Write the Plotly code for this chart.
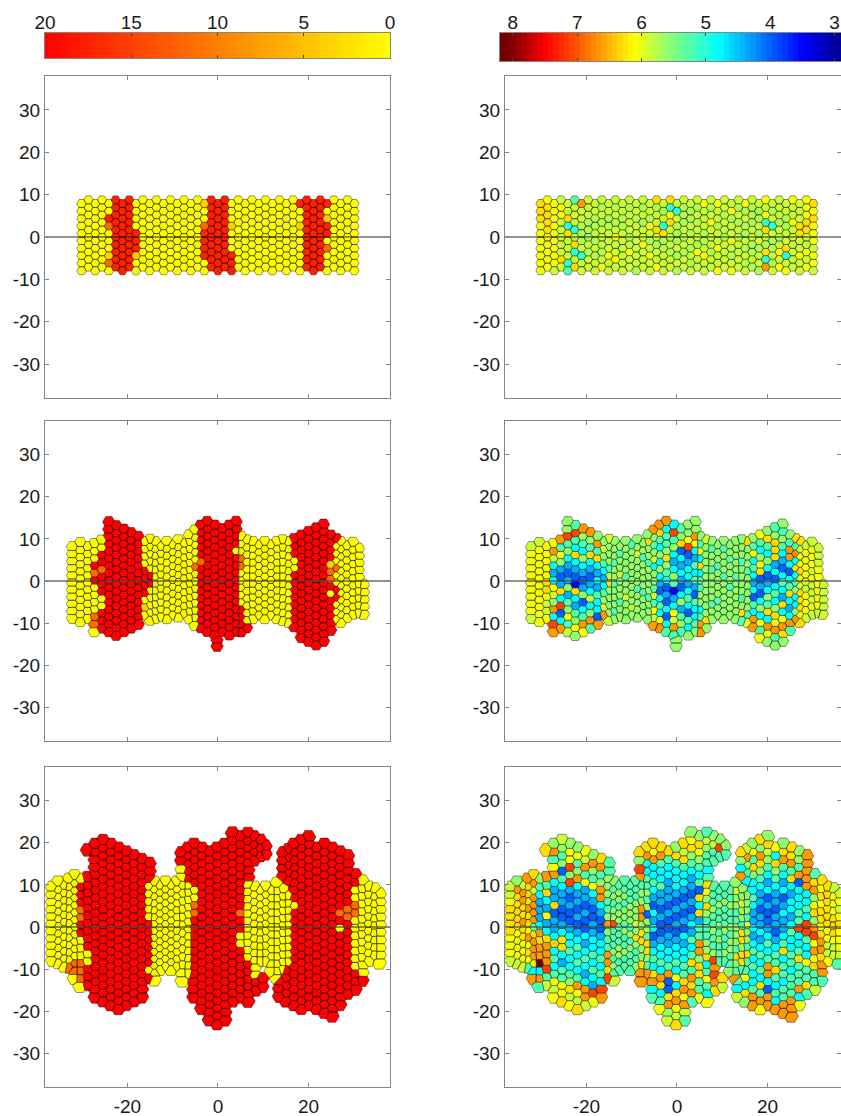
import re
import numpy as np
import plotly.graph_objects as go
from plotly.colors import sample_colorscale

W, H = 841, 1116

# ---------- data: colour scales and cell value codes ----------
GROWTH_TICKS = [20, 15, 10, 5, 0]
AFFECT_TICKS = [8, 7, 6, 5, 4, 3]
X_TICKS = [-20, 0, 20]
Y_TICKS = [-30, -20, -10, 0, 10, 20, 30]
GROWTH_CODE = {"y": 0, "a": 3.7, "d": 11.7, "q": 17.5, "r": 20}
AFFECT_CODE = {"D": 8.1, "R": 7.1, "O": 6.65, "Y": 6.3, "y": 6.08, "l": 5.87, "k": 5.74, "g": 5.6,
               "m": 5.25, "t": 5.05, "c": 4.8, "s": 4.4, "b": 4.0, "n": 3.5}
AFFECT_STOPS = [(2.9, "#000090"), (3.5, "#0000ff"), (4.0, "#0060ff"), (4.8, "#00ffff"),
                (5.5, "#80ff80"), (6.13, "#ffff00"), (7.0, "#ff5500"), (7.5, "#ff0000"),
                (8.0, "#800000"), (8.2, "#6a0000")]
GROWTH_STOPS = [(0, "#ffff00"), (10, "#ff8000"), (20, "#ff0000")]

# ---------- top row: 41 columns of 10 cells ----------
P1_X = [-30.1, -28.6, -27.1, -25.6, -24.1, -22.6, -21.1, -19.6, -18.1, -16.6, -15.1, -13.6, -12.0, -10.5,
        -9.0, -7.5, -6.0, -4.5, -3.0, -1.5, 0.0, 1.5, 3.0, 4.5, 6.0, 7.5, 9.0, 10.5, 12.0, 13.6, 15.1,
        16.6, 18.1, 19.6, 21.1, 22.6, 24.1, 25.6, 27.1, 28.6, 30.1]
P1_TOP = [7.85, 8.7] * 20 + [7.85]
P1_STEP = [1.75] * 41
P1_GROWTH = ["y10", "y10", "y10", "y10", "y2 q d y3 a d y", "q10", "q10", "q10", "y4 q3 a y2", "y10", "y10",
             "y10", "y10", "y10", "y10", "y10", "y10", "y10", "a y2 d q4 y2", "q10", "q10", "q10",
             "y3 a y3 q3", "y10", "y10", "y10", "y10", "y10", "y10", "y10", "y10", "y10", "q y2 a y6", "q10",
             "q10", "q10", "q y a q2 y d y3", "y10", "y10", "y10", "y10"]
P1_AFFECT = ["YYYyyyyyyy", "yYYYYyyyyy", "yyyyyyyyyl", "lyylllllYl", "llYtYllltm", "mllltlYtlY", "Ollkkkltll",
             "lllkkklkll", "llkklklkll", "lklklllkly", "llkklllyll", "lklklyllyl", "llkkllllll", "lklllklyll",
             "llkllllllk", "lklkllylll", "llkylklyll", "YkllYlklly", "lkltYkklll",
             "YtyYlklkll", "ltlkkklklk", "lkkklklkll", "lkklklklkl", "lklkllkyll", "ylllkklyll", "lklylllkll",
             "yllkllylly", "llkllkllll", "lykllylkly", "lklklkllll", "yklkklklkl", "lkkkllkklk", "lkklklkllk",
             "ylytYlkYtO", "lkltlkklkl", "lllklklyly", "llkkllYtly", "yllyllllll",
             "lllYYllyll", "yyyYYllyly", "YyYyyylyyl"]

# ---------- middle row ----------
P2_X = [-32.1, -30.4, -28.8, -27.3, -25.7, -24.1, -22.5, -20.8, -19.2, -17.6, -16.1, -15.0, -13.9, -12.7, -11.3,
        -10.0, -8.8, -7.5, -6.3, -5.1, -3.8, -2.4, -0.7, -0.2, 0.9, 2.5, 4.0, 5.1, 6.3, 7.7, 9.0, 10.3, 11.7, 13.0,
        14.3, 15.6, 16.8, 18.4, 20.0, 21.7, 23.3, 24.9, 26.2, 27.1, 28.4, 29.8, 31.0, 32.1]
P2_TOP = [8.1, 9.05, 8.1, 8.8, 9.64, 14.0, 13.1, 12.27, 11.4, 10.54, 9.3, 9.8, 9.3, 8.1, 9.3,
          8.5, 9.7, 8.9, 10.9, 12.0, 13.2, 14.07, 13.2, -14.0, 12.34, 13.2, 14.07, 10.5, 9.7, 9.3, 8.5, 9.3, 8.5, 9.3,
          9.7, 9.3, 9.97, 10.84, 11.7, 12.57, 13.43, 10.84, 9.97, 9.3, 8.3, 9.1, 7.7, -0.9]
P2_STEP = [1.69, 1.69, 1.69, 1.73, 1.73, 1.73, 1.73, 1.73, 1.73, 1.73, 1.73, 1.73, 1.65, 1.65, 1.65,
           1.65, 1.65, 1.65, 1.65, 1.73, 1.73, 1.73, 1.73, 1.45, 1.73, 1.73, 1.73, 1.73, 1.73, 1.65, 1.65, 1.65, 1.65, 1.65,
           1.73, 1.73, 1.73, 1.73, 1.73, 1.73, 1.73, 1.73, 1.73, 1.73, 1.69, 1.69, 1.69, 1.73]
P2_GROWTH = ["y11", "y12", "y11", "y3 r d r y4 d2 y", "y2 r2 d r3 y2 r3", "r16", "r16", "r15", "r14", "r13",
             "y4 r4 y a y", "y5 r2 y5", "y12", "y11", "y12", "y11", "y12", "y11", "y13", "y5 d y8",
             "r5 d r9", "r16", "r16", "r2", "r15", "r16", "r4 y r11", "y3 d2 y5 r4", "y12 r", "y12", "y11", "y12",
             "y11", "y12", "y12", "y12", "r3 y2 r8", "r15", "r16", "r17", "r17", "r4 a d2 r y r5", "r y3 d y2 r2 y3",
             "y12", "y11", "y11", "y10", "y5"]
P2_AFFECT = ["lyyyyyyyyyl", "lyyyyyyyyyyy", "yyyyyYYylly", "yOlcscylgOcRO", "OmygsbsYcRbcO", "ggRmgcsbsgsmgyml",
             "mRmcYcsbnYcsmgyg", "OgmcgcsbsgbcmOy", "OgmYcsbsclcgOm", "gOmYcscsmccbO", "glgmcscmglO", "lgggmlYggggl",
             "gggmggmgggmg", "gmgglgggmgg", "gggggmgglggg", "mgggggggglg", "gglggggmgggg", "ggmggggmggg",
             "gYggmggggmggg", "OgmglcggmlmylO", "OYmcgcgcsbcmcyO", "OcmmgYgmcbsbcbcm", "cRmgcscgmnscylOm", "gg",
             "mgYbcscsbcgsmgm", "ggyRbsccscmcbmcg", "ggOycsmcmsbmccmg", "gmycYcmmggcmOO",
             "lggggggggggYg", "gmggmggggmgg", "gggmggggmgg", "gmgggmgggggg", "ggmgggmgggg", "gggggmgggggg", "gggmggggmgYm",
             "Ygggmgggggmy", "gmycmcscbmcOO", "ymcgyYbsbcgcymy", "gYmcgcbscgmYcOyg", "mgYYYscbcmcgYyOmg",
             "gmgmcsbcmcsYcyOYg", "gmOOcbcmYcscOm", "YmOcYcmgccgO", "YlyyYylYYYyY", "lyyyyylyyyl", "lyyylylllyl",
             "lllyyyyyyl", "lllll"]

# ---------- bottom row ----------
P3_X = [-36.5, -35.3, -34.0, -32.9, -31.7, -30.5, -28.8, -28.8, -27.1, -25.4, -23.7, -22.0, -20.3, -18.6, -16.9, -15.2,
        -14.1, -12.9, -11.6, -10.4, -9.1, -8.0, -7.9, -6.6, -6.6, -5.3, -3.6, -1.9, -0.2, 1.5, 3.2, 4.9, 6.6, 7.9, 9.3,
        10.4, 8.0, 8.3, 9.3, 9.7, 10.5, 11.8, 13.0, 14.3, 15.5, 14.5, 13.6, 15.6, 15.0, 16.8, 18.4, 20.0, 21.8, 23.5,
        25.2, 26.9, 28.6, 30.3, 31.8, 33.2, 34.5, 35.6]
P3_TOP = [9.4, 10.6, 9.8, 11.3, 12.1, 11.3, 18.3, 11.7, 19.6, 20.5, 19.6, 18.7, 17.8, 16.9, 16.0, 15.1,
          10.6, 9.8, 10.6, 9.8, 10.6, 17.6, 13.7, 18.7, 9.9, 19.6, 18.7, 17.8, 18.7, 19.6, 22.3, 21.4, 22.2, 21.4, 20.6,
          19.2, 9.4, -13.1, 8.6, -12.3, 9.4, 8.6, 10.3, 9.0, 7.4, 17.6, -12.8, 18.3, -10.3, 19.6, 20.5, 21.4, 18.7, 19.6,
          18.7, 17.8, 16.9, 12.4, 10.9, 9.4, 9.0, 7.8]
P3_STEP = [1.73, 1.73, 1.73, 1.73, 1.73, 1.81, 1.81, 1.81, 1.81, 1.81, 1.81, 1.81, 1.81, 1.81, 1.81, 1.81,
           1.65, 1.65, 1.65, 1.65, 1.65, 1.81, 1.89, 1.81, 1.73, 1.81, 1.81, 1.81, 1.81, 1.81, 1.81, 1.81, 1.73, 1.81, 1.81,
           1.81, 1.73, 1.81, 1.65, 1.81, 1.73, 1.73, 1.73, 1.73, 1.73, 1.81, 1.81, 1.81, 1.81, 1.81, 1.81, 1.81, 1.81, 1.81,
           1.81, 1.81, 1.81, 1.81, 1.81, 1.73, 1.73, 1.81]
P3_GROWTH = ["y11", "y12", "y12", "y12 d", "y12 d2 y", "y r3 d2 r2 y3 d3 y", "r", "r10 y2 r3", "r21", "r22", "r22", "r22",
             "r21", "r20", "r19", "r3 y5 r6 y r", "y15", "y13", "y13", "y13", "y13", "r2", "y15", "r5", "y13",
             "r6 y2 d2 r11", "r22", "r23", "r24", "r24", "r23", "r10 d r2 y2 r7", "r7 y11 r6", "r4", "r3", "r2", "y13", "r2",
             "y11", "r2", "y11", "y12", "y14", "y12", "y10", "r4", "r3", "r5", "r5", "r8 y r13", "r23", "r23", "r22", "r23",
             "r23", "r8 d r y r10", "r7 d2 r10", "r2 y2 d2 y7 r3", "y13 r", "y11", "y10", "y10"]
P3_AFFECT = ["llyYYYYyyyl", "gOYYYYYyyyyl", "lOOYYOYYyyyl", "OYYYOYYyOyYym", "YOlOOOOmYOOOycO", "gmcssscOYOODcOm", "Y",
             "OmYcsyscYOOORml", "gOmyOcssYbsscYcmcmyly", "lgmgbmcssbbscYYcsmmyyY", "gyyRgRsbsbbsccmccmgYly",
             "gymgOcssbsbscmcmcmOylY", "ylOmyssbsbbcscmcscOOl", "gOgmycsbbssccmcmcsRy", "YOmgOOcsbbsccmcmcRO",
             "mmgggmmgOgmmOOYR", "gmgmggRmmmgmgml", "mggmggmmmggmm", "mmgmggmgmmgmm", "mmmgggmgmgmmm", "mmmggglgYgmmg", "Yg",
             "ROmggOOgYYggYOO", "YOccm", "mgmgbggmYYgmO", "YyOccmcsbcscbscmcYOcm", "YOmccmssbsbbsccmcOYcmy",
             "YmccsssbsbbssccmObbYOgl", "gYmcccsbsbsbsccmcycYOylY", "YlYmccsbsbsbcsccmmYOyOlm", "gyYgmcssbsbscsmcmYmOYOm",
             "gYygmcmbYcYsmmOOgYYmmy", "mlgmmcmYygYgmmmggYcmymcy", "glmm", "gRm", "gm", "mmmgmmgmmgROR", "OY", "mmgmmgmgmmm", "Yl",
             "mmgmmmgmmgm", "mmgmmgmggmmg", "glggmmgggmYgmO", "gglggmYYgYYm", "gggmlggmYm", "YgcO", "mcl", "lOgmc", "mycYg",
             "gymYgccmcsscscmcmccmOO", "YgOYgmcssbsscscmcmcYmOy", "gYlgmcscbsbbscmcmOOcbOO", "ycYgmcssbssbscmmYmcmcO",
             "gYOmcscbscsscmYcmmcmmOO", "YYOmYcsccscmccmmcmmmOOO", "ggmObcccmmRccmYmmmOcy", "OOOOOccmcRRmccymmYm",
             "mYOgyYgORyOyYmml", "YyYyYYyYOOYOOm", "YYYYYYyylly", "lyyyYYYyll", "lylyYyyylm"]

PANELS = [(P1_X, P1_TOP, P1_STEP, P1_GROWTH, P1_AFFECT),
          (P2_X, P2_TOP, P2_STEP, P2_GROWTH, P2_AFFECT),
          (P3_X, P3_TOP, P3_STEP, P3_GROWTH, P3_AFFECT)]

# ---------- layout in pixels ----------
PX_X, PX_Y = 4.525, 4.23
Y_RANGE = [-38, 38]
ROWS = [(76, 398), (421, 741), (767, 1087)]
COLS = [(45, 390, [-38.2, 38.0]), (505, 841, [-38.0, 36.25])]
CELL_R = [4.9, 6.3, 7.4]
ZERO = [("rgba(20,20,20,0.9)", 1), ("rgba(70,70,70,0.6)", 2), ("rgba(70,70,70,0.6)", 2)]


def scale(stops):
    lo, hi = stops[0][0], stops[-1][0]
    return [[(v - lo) / (hi - lo), c] for v, c in stops], lo, hi


def colour(stops, v):
    cs, lo, hi = scale(stops)
    return sample_colorscale(cs, [(v - lo) / (hi - lo)])[0]


def expand(code):
    out = ""
    for tok in code.split():
        m = re.fullmatch(r"([A-Za-z])(\d*)", tok)
        out += m.group(1) * int(m.group(2) or 1)
    return out


def cells(panel):
    xs, tops, steps, growth, affect = panel
    pts, g, a = [], [], []
    for x, t, s, gc, ac in zip(xs, tops, steps, growth, affect):
        gs = expand(gc)
        ac = (ac + ac[-1] * len(gs))[:len(gs)]
        for k, (c1, c2) in enumerate(zip(gs, ac)):
            pts.append((x, t - k * s))
            g.append(c1)
            a.append(c2)
    return np.array(pts), g, a


def clip(poly, m, n):
    out = []
    for i in range(len(poly)):
        p, q = poly[i], poly[(i + 1) % len(poly)]
        dp, dq = np.dot(p - m, n), np.dot(q - m, n)
        if dp <= 0:
            out.append(p)
        if dp * dq < 0:
            out.append(p + (q - p) * dp / (dp - dq))
    return out


def polygons(pts, r):
    s = pts * np.array([PX_X, PX_Y])
    ang = np.radians(np.arange(0, 360, 60))
    hexa = np.c_[np.cos(ang), np.sin(ang)] * r
    res = []
    for i, p in enumerate(s):
        poly = [p + h for h in hexa]
        d = np.hypot(*(s - p).T)
        for j in np.argsort(d)[1:24]:
            if d[j] > 2.05 * r or d[j] == 0 or not poly:
                continue
            poly = clip(poly, (p + s[j]) / 2, s[j] - p)
        res.append(np.array(poly) / np.array([PX_X, PX_Y]))
    return res


fig = go.Figure()
layout = {}
font = dict(family="Liberation Sans, Arial, sans-serif", size=19, color="#1a1a1a")
axis_grey = "#858585"
n_axis = 0
for r, ((top, bot), panel) in enumerate(zip(ROWS, PANELS)):
    pts, g, a = cells(panel)
    polys = polygons(pts, CELL_R[r])
    for c, (left, right, xr) in enumerate(COLS):
        n_axis += 1
        sfx = "" if n_axis == 1 else str(n_axis)
        groups = {}
        for poly, ch in zip(polys, g if c == 0 else a):
            col = colour(GROWTH_STOPS, GROWTH_CODE[ch]) if c == 0 else colour(AFFECT_STOPS, AFFECT_CODE[ch])
            gx, gy = groups.setdefault(col, ([], []))
            if len(poly):
                gx += list(poly[:, 0]) + [poly[0, 0], None]
                gy += list(poly[:, 1]) + [poly[0, 1], None]
        for col, (gx, gy) in groups.items():
            fig.add_trace(go.Scatter(x=gx, y=gy, mode="lines", fill="toself", fillcolor=col,
                                     line=dict(color="rgba(0,0,0,0.6)", width=0.7),
                                     hoverinfo="skip", showlegend=False, xaxis="x" + sfx, yaxis="y" + sfx))
        fig.add_trace(go.Scatter(x=xr, y=[0, 0], mode="lines", line=dict(color=ZERO[r][0], width=ZERO[r][1]),
                                 hoverinfo="skip", showlegend=False, xaxis="x" + sfx, yaxis="y" + sfx))
        layout["xaxis" + sfx] = dict(domain=[left / W, right / W], range=xr, anchor="y" + sfx, showgrid=False,
                                     zeroline=False, showline=True, linecolor=axis_grey, linewidth=1, mirror="ticks",
                                     ticks="inside", ticklen=4, tickcolor=axis_grey, tickmode="array",
                                     tickvals=X_TICKS, ticktext=[str(v) for v in X_TICKS], automargin=False,
                                     showticklabels=r == 2, tickfont=font, ticklabelstandoff=2)
        layout["yaxis" + sfx] = dict(domain=[1 - bot / H, 1 - top / H], range=Y_RANGE, anchor="x" + sfx, showgrid=False,
                                     zeroline=False, showline=True, linecolor=axis_grey, linewidth=1, mirror="ticks",
                                     ticks="inside", ticklen=4, tickcolor=axis_grey, tickmode="array", automargin=False,
                                     tickvals=Y_TICKS, ticktext=[str(v) for v in Y_TICKS], tickfont=font)

# colour bars
BARS = [((45, 390), (33, 58), [20, 0], GROWTH_STOPS, GROWTH_TICKS, 240),
        ((500, 841), (33, 61), [8.2, 2.9], AFFECT_STOPS, AFFECT_TICKS, 64)]
for left_right, top_bot, xr, stops, ticks, nbin in BARS:
    n_axis += 1
    sfx = str(n_axis)
    cs, lo, hi = scale(stops)
    edges = np.linspace(xr[0], xr[1], nbin + 1)
    mids = (edges[:-1] + edges[1:]) / 2
    fig.add_trace(go.Heatmap(x=mids, y=[0, 1], z=[mids, mids], colorscale=cs, zmin=lo, zmax=hi, showscale=False,
                             hoverinfo="skip", xaxis="x" + sfx, yaxis="y" + sfx))
    layout["xaxis" + sfx] = dict(domain=[left_right[0] / W, left_right[1] / W], range=xr, anchor="y" + sfx, side="top",
                                 showgrid=False, zeroline=False, showline=True, linecolor=axis_grey, linewidth=1,
                                 mirror="ticks", ticks="inside", ticklen=3, tickcolor="#444", tickmode="array",
                                 automargin=False, tickvals=ticks, ticktext=[str(v) for v in ticks], tickfont=font,
                                 ticklabelstandoff=-5)
    layout["yaxis" + sfx] = dict(domain=[1 - top_bot[1] / H, 1 - top_bot[0] / H], range=[-0.5, 1.5], anchor="x" + sfx,
                                 showgrid=False, zeroline=False, showline=True, linecolor=axis_grey, linewidth=1,
                                 mirror=True, ticks="", showticklabels=False, automargin=False)

fig.update_layout(width=W, height=H, margin=dict(l=0, r=0, t=0, b=0, autoexpand=False), paper_bgcolor="white",
                  plot_bgcolor="white", showlegend=False, **layout)
fig.write_html("out.html", config={"displayModeBar": False},
               post_script="document.body.style.margin='0';document.documentElement.style.overflow='hidden';")
